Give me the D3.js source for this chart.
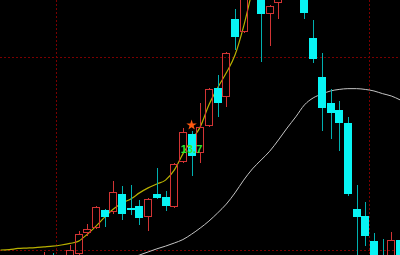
<!DOCTYPE html>
<html><head><meta charset="utf-8">
<script src="https://cdn.jsdelivr.net/npm/d3@7"></script>
<style>html,body{margin:0;padding:0;background:#000;overflow:hidden}svg{display:block}</style>
</head><body><svg id="c" width="400" height="255"></svg>
<script>
// ---- data ----
const firstIndex = -3;
const open  = [9.69,9.82,9.70,9.79,9.90,10.44,10.57,11.04,10.98,11.45,11.09,11.14,10.85,11.45,11.37,11.11,12.28,13.01,12.51,13.21,14.20,13.96,15.98,15.65,16.79,16.87,16.11,16.40,16.74,17.46,16.61,15.49,14.48,13.81,13.63,13.29,11.06,10.88,10.23,9.84,9.69,10.26];
const high  = [9.95,9.92,9.79,10.13,10.49,10.67,11.14,11.06,11.79,11.66,11.68,11.30,11.35,12.12,11.53,12.25,13.16,13.08,13.81,14.20,14.53,15.13,16.24,16.87,17.38,17.00,16.35,16.61,17.77,17.64,16.74,15.96,15.10,14.17,13.86,13.45,11.68,11.24,10.44,10.28,10.47,10.28];
const low   = [9.64,9.69,9.66,9.69,9.84,10.36,10.54,10.60,10.93,10.78,10.91,10.65,10.49,11.32,11.01,11.09,12.25,11.92,12.25,13.19,13.45,13.70,15.18,15.62,16.61,14.87,15.28,15.98,16.61,16.53,15.98,14.84,13.08,12.88,12.56,11.40,9.69,10.10,9.59,9.61,9.61,9.59];
const close = [9.84,9.74,9.78,10.00,10.41,10.54,11.11,10.85,11.50,10.93,11.04,10.83,11.32,11.35,11.14,12.23,13.06,12.44,13.19,14.17,13.81,15.10,15.52,16.74,17.25,16.11,16.32,16.55,17.51,16.61,16.14,14.95,13.68,13.55,13.29,11.45,10.85,10.36,9.69,9.69,10.26,9.69];

const maShortStart = -8;
const maShort = [10.00,10.01,10.04,10.05,10.06,10.08,10.10,10.13,10.17,10.23,10.41,10.62,10.85,11.06,11.22,11.32,11.48,11.61,11.71,11.81,12.07,12.49,12.85,13.19,13.76,14.20,14.59,15.05,15.80,16.74];
const maLongStart = 7;
const maLong = [9.79,9.87,9.95,10.03,10.10,10.18,10.27,10.41,10.57,10.75,10.96,11.19,11.48,11.81,12.10,12.33,12.56,12.85,13.16,13.45,13.76,13.94,14.04,14.12,14.16,14.18,14.18,14.16,14.12,14.05,13.99,13.89];

const gridPrices = [10, 15];
const gridBoundaries = [-1, 35];
const signalIndex = 14;
const signalLabel = "13.7";

// ---- drawing ----
const svg = d3.select("#c");
const W = 400, H = 255;
svg.append("rect").attr("width", W).attr("height", H).attr("fill", "#000");

const x = d3.scaleLinear().domain([0, 38]).range([70, 400]);
const y = d3.scaleLinear().domain([10, 15]).range([250, 57]);
const step = x(1) - x(0);

const grid = svg.append("g").attr("stroke", "#7a0000").attr("stroke-width", 1).attr("stroke-dasharray", "2,2");
gridPrices.forEach(p => {
  const yy = Math.round(y(p)) + 0.5;
  grid.append("line").attr("x1", 0).attr("x2", W).attr("y1", yy).attr("y2", yy);
});
gridBoundaries.forEach(b => {
  const xx = Math.floor(x(b) - step / 2) + 0.5;
  grid.append("line").attr("x1", xx).attr("x2", xx).attr("y1", 0).attr("y2", H);
});

const line = d3.line().x(d => x(d.i)).y(d => y(d.v)).curve(d3.curveMonotoneX);
const shortPts = maShort.map((v, k) => ({i: maShortStart + k, v}));
const longPts = maLong.map((v, k) => ({i: maLongStart + k, v}));
svg.append("path").attr("d", line(longPts)).attr("fill", "none").attr("stroke", "#c4c4c4").attr("stroke-width", 1);
svg.append("path").attr("d", line(shortPts)).attr("fill", "none").attr("stroke", "#b8b000").attr("stroke-width", 1.2);

const candles = open.map((o, k) => ({i: firstIndex + k, o, h: high[k], l: low[k], c: close[k]}));
const cg = svg.append("g");
candles.forEach(d => {
  const X = Math.round(x(d.i) - 4);
  const wx = X + 4.5;
  const yh = Math.round(y(d.h)), yl = Math.round(y(d.l));
  if (d.c >= d.o) {
    const yt = Math.round(y(d.c)), yb = Math.round(y(d.o));
    const col = "#d23434";
    cg.append("line").attr("x1", wx).attr("x2", wx).attr("y1", yh).attr("y2", yt).attr("stroke", col);
    cg.append("line").attr("x1", wx).attr("x2", wx).attr("y1", yb).attr("y2", yl).attr("stroke", col);
    cg.append("rect").attr("x", X + 0.5).attr("y", yt + 0.5).attr("width", 7).attr("height", Math.max(yb - yt - 1, 0))
      .attr("fill", "none").attr("stroke", col).attr("stroke-width", 1);
  } else {
    const yt = Math.round(y(d.o)), yb = Math.round(y(d.c));
    cg.append("line").attr("x1", wx).attr("x2", wx).attr("y1", yh).attr("y2", yl).attr("stroke", "#00b0b0");
    cg.append("rect").attr("x", X).attr("y", yt).attr("width", 8).attr("height", Math.max(yb - yt, 1)).attr("fill", "#08f4f4");
  }
});

const sig = candles.find(d => d.i === signalIndex);
svg.append("path").attr("d", d3.symbol(d3.symbolStar, 34)())
  .attr("transform", `translate(${x(sig.i)},${y(sig.h) - 6})`).attr("fill", "#ff5a10");
svg.append("text").attr("x", x(sig.i)).attr("y", 153).attr("text-anchor", "middle")
  .attr("font-family", "Liberation Sans, Arial, sans-serif").attr("font-weight", "bold").attr("font-size", 11)
  .attr("fill", "#2ee62e").text(signalLabel);
</script></body></html>
